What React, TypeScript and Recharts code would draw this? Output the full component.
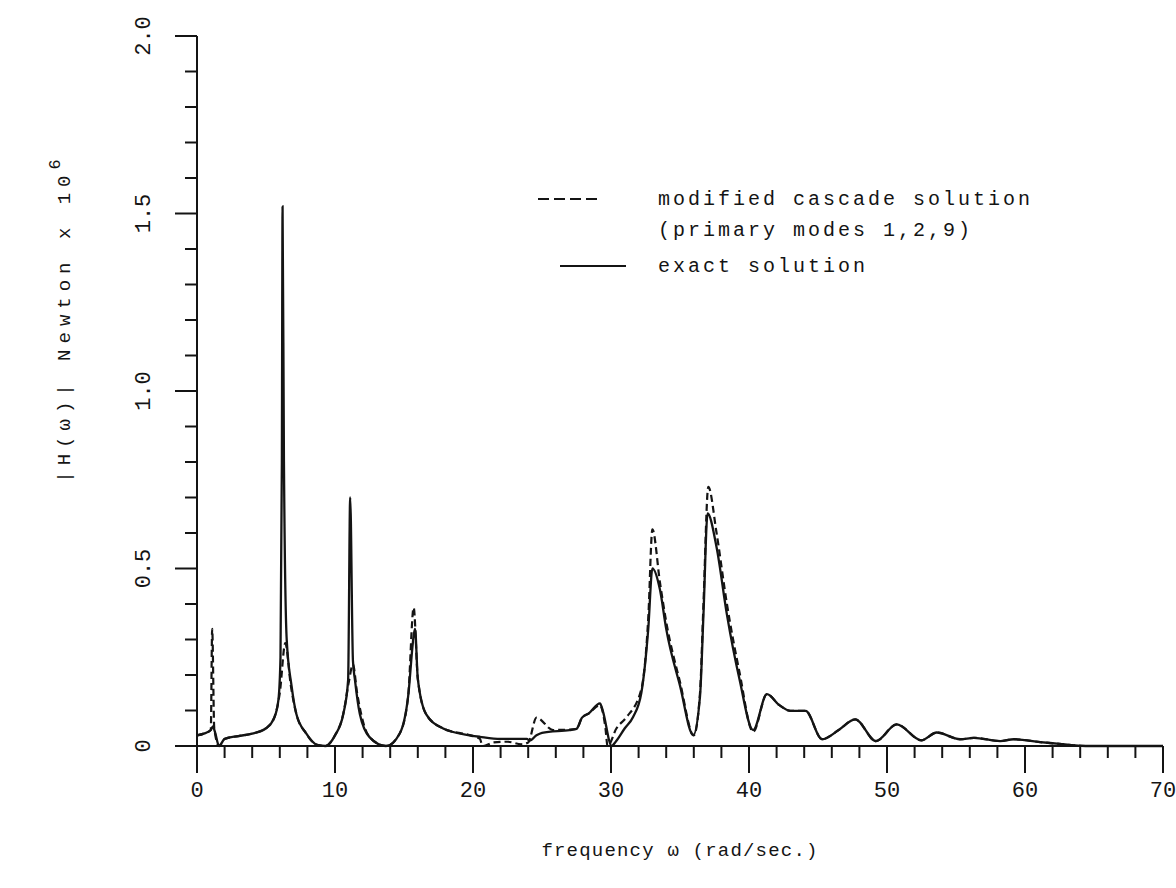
import React from 'react';
import { LineChart, Line, XAxis, YAxis, Customized } from 'recharts';

// exact solution |H(w)| (x 10^6 N) vs frequency (rad/s)
const exactFreq = [0, 0.5, 1.0, 1.15, 1.3, 1.6, 2.0, 3.0, 4.0, 5.0, 5.6, 5.9, 6.05, 6.15, 6.2, 6.3, 6.5, 6.85, 7.2, 7.9, 8.7, 9.3, 10.0, 10.6, 10.95, 11.1, 11.3, 11.45, 11.8, 12.5, 13.7, 14.7, 15.3, 15.7, 15.8, 16.0, 16.6, 17.8, 19.8, 20.5, 22.0, 23.9, 24.1, 24.6, 25.0, 27.0, 27.5, 27.9, 28.4, 29.2, 29.4, 30.05, 30.3, 31.0, 31.6, 32.2, 32.7, 33.0, 33.55, 34.0, 35.0, 35.96, 36.45, 36.7, 37.0, 37.65, 38.4, 39.3, 40.3, 41.3, 42.2, 43.0, 44.1, 45.3, 46.5, 47.7, 49.2, 50.7, 52.5, 53.6, 55.3, 56.3, 58.2, 59.2, 61.1, 62.5, 63.5, 64.4, 70.0];
const exactAmp = [0.03, 0.035, 0.045, 0.055, 0.04, 0.0, 0.02, 0.028, 0.035, 0.05, 0.08, 0.13, 0.25, 0.8, 1.52, 0.8, 0.3, 0.17, 0.09, 0.036, 0.003, 0.0, 0.03, 0.09, 0.185, 0.7, 0.24, 0.185, 0.09, 0.025, 0.0, 0.036, 0.14, 0.31, 0.33, 0.19, 0.09, 0.05, 0.03, 0.026, 0.02, 0.02, 0.015, 0.03, 0.037, 0.045, 0.048, 0.08, 0.092, 0.12, 0.1, 0.0, 0.01, 0.05, 0.082, 0.15, 0.33, 0.5, 0.44, 0.33, 0.17, 0.031, 0.14, 0.37, 0.655, 0.56, 0.37, 0.19, 0.045, 0.146, 0.115, 0.099, 0.099, 0.019, 0.045, 0.075, 0.014, 0.061, 0.016, 0.038, 0.019, 0.023, 0.014, 0.019, 0.011, 0.006, 0.002, 0.0, 0.0];

// modified cascade solution (primary modes 1,2,9)
const cascadeFreq = [0, 0.5, 1.0, 1.1, 1.25, 1.6, 2.0, 3.0, 4.0, 5.0, 5.6, 6.0, 6.4, 6.8, 7.2, 7.9, 8.7, 9.3, 10.0, 10.6, 11.0, 11.3, 11.6, 12.5, 13.7, 14.7, 15.3, 15.7, 16.0, 16.6, 17.8, 19.8, 20.5, 20.7, 21.5, 22.5, 23.5, 24.0, 24.6, 25.8, 27.5, 27.9, 28.4, 29.2, 29.6, 29.75, 30.4, 31.1, 32.2, 32.7, 33.0, 33.55, 34.0, 35.0, 36.0, 36.45, 36.7, 37.05, 37.65, 38.4, 39.3, 40.3, 41.3, 42.2, 43.0, 44.1, 45.3, 46.5, 47.7, 49.2, 50.7, 52.5, 53.6, 55.3, 56.3, 58.2, 59.2, 61.1, 62.5, 63.5, 64.4];
const cascadeAmp = [0.03, 0.035, 0.045, 0.33, 0.05, 0.0, 0.02, 0.028, 0.035, 0.05, 0.08, 0.15, 0.29, 0.17, 0.09, 0.036, 0.003, 0.0, 0.03, 0.09, 0.18, 0.23, 0.15, 0.025, 0.0, 0.036, 0.14, 0.39, 0.19, 0.09, 0.05, 0.03, 0.02, 0.0, 0.01, 0.012, 0.005, 0.01, 0.08, 0.045, 0.048, 0.08, 0.092, 0.115, 0.05, 0.0, 0.05, 0.08, 0.16, 0.36, 0.61, 0.46, 0.35, 0.18, 0.03, 0.15, 0.4, 0.73, 0.6, 0.4, 0.21, 0.04, 0.146, 0.115, 0.099, 0.099, 0.019, 0.045, 0.075, 0.014, 0.061, 0.016, 0.038, 0.019, 0.023, 0.014, 0.019, 0.011, 0.006, 0.002, 0.0];

const xTicks = [0, 2, 4, 6, 8, 10, 12, 14, 16, 18, 20, 22, 24, 26, 28, 30, 32, 34, 36, 38, 40, 42, 44, 46, 48, 50, 52, 54, 56, 58, 60, 62, 64, 66, 68, 70];
const xMajorTicks = [0, 10, 20, 30, 40, 50, 60, 70];
const yTicks = [0, 0.1, 0.2, 0.3, 0.4, 0.5, 0.6, 0.7, 0.8, 0.9, 1.0, 1.1, 1.2, 1.3, 1.4, 1.5, 1.6, 1.7, 1.8, 1.9, 2.0];
const yMajorTicks = [0, 0.5, 1.0, 1.5, 2.0];
const yMajorLabels = ['0', '0.5', '1.0', '1.5', '2.0'];

const exactData = exactFreq.map((x, i) => ({ x, y: exactAmp[i] }));
const cascadeData = cascadeFreq.map((x, i) => ({ x, y: cascadeAmp[i] }));

const INK = '#141414';
const MONO = '"Liberation Mono", "DejaVu Sans Mono", monospace';

const XTick = (props: any) => {
  const { x, y, payload } = props;
  const v = payload.value;
  const major = xMajorTicks.includes(v);
  return (
    <g>
      <line x1={x} x2={x} y1={y} y2={y + (major ? 27 : 12)} stroke={INK} strokeWidth={2} />
      {major && (
        <text x={x} y={y + 51} textAnchor="middle" fontFamily={MONO} fontSize={22} fill={INK}>
          {v}
        </text>
      )}
    </g>
  );
};

const YTick = (props: any) => {
  const { x, y, payload } = props;
  const v = payload.value;
  const idx = yMajorTicks.findIndex((m) => Math.abs(m - v) < 1e-6);
  const major = idx >= 0;
  const lx = x - 54;
  return (
    <g>
      <line x1={x - (major ? 22 : 12)} x2={x} y1={y} y2={y} stroke={INK} strokeWidth={2} />
      {major && (
        <text
          x={lx}
          y={y}
          textAnchor="middle"
          transform={`rotate(-90 ${lx} ${y})`}
          dy={7}
          fontFamily={MONO}
          fontSize={22}
          fill={INK}
        >
          {yMajorLabels[idx]}
        </text>
      )}
    </g>
  );
};

const Decorations = () => (
  <g fill={INK} fontFamily={MONO}>
    <text x={680} y={856} textAnchor="middle" fontSize={19} letterSpacing={1.2}>
      frequency ω (rad/sec.)
    </text>
    <text
      x={70}
      y={318}
      textAnchor="middle"
      transform="rotate(-90 70 318)"
      fontSize={19}
      letterSpacing={6}
    >
      |H(ω)| Newton  x 10<tspan dy={-10} fontSize={17}>6</tspan>
    </text>
    <line x1={538} x2={598} y1={199} y2={199} stroke={INK} strokeWidth={2} strokeDasharray="11 5" />
    <text x={658} y={205} fontSize={20} letterSpacing={3}>modified cascade solution</text>
    <text x={658} y={236} fontSize={20} letterSpacing={3}>(primary modes 1,2,9)</text>
    <line x1={560} x2={626} y1={266} y2={266} stroke={INK} strokeWidth={2} />
    <text x={658} y={272} fontSize={20} letterSpacing={3}>exact solution</text>
  </g>
);

export default function App() {
  return (
    <div style={{ position: 'absolute', left: 0, top: 0, background: '#fff' }}>
      <LineChart width={1176} height={888} margin={{ top: 36, right: 13, bottom: 0, left: 0 }}>
        <XAxis
          dataKey="x"
          type="number"
          domain={[0, 70]}
          ticks={xTicks}
          interval={0}
          height={142}
          tickSize={0}
          tickMargin={0}
          tick={<XTick />}
          axisLine={{ stroke: INK, strokeWidth: 2 }}
          allowDuplicatedCategory={false}
        />
        <YAxis
          dataKey="y"
          type="number"
          domain={[0, 2]}
          ticks={yTicks}
          interval={0}
          width={197}
          tickSize={0}
          tickMargin={0}
          tick={<YTick />}
          axisLine={{ stroke: INK, strokeWidth: 2 }}
        />
        <Line
          data={cascadeData}
          dataKey="y"
          type="monotone"
          stroke={INK}
          strokeWidth={2.2}
          strokeDasharray="7 4"
          dot={false}
          isAnimationActive={false}
        />
        <Line
          data={exactData}
          dataKey="y"
          type="monotone"
          stroke={INK}
          strokeWidth={2.3}
          dot={false}
          isAnimationActive={false}
        />
        <Customized component={Decorations} />
      </LineChart>
    </div>
  );
}
